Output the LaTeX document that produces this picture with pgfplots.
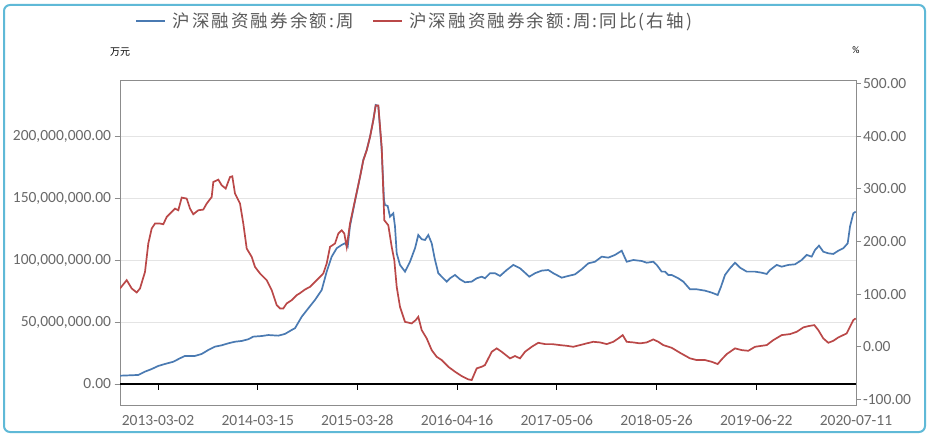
\documentclass[border=0pt]{standalone}
\usepackage{pgfplots}
\pgfplotsset{compat=1.18}
\usepackage{fontspec}
\setmainfont{Carlito}
\newfontfamily\cjk{Noto Sans CJK SC}
\newfontfamily\cjkleg[LetterSpace=12]{Noto Sans CJK SC}
\definecolor{serblue}{RGB}{74,122,178}
\definecolor{serred}{RGB}{186,72,72}
\definecolor{ticktext}{RGB}{105,105,105}
\definecolor{legtext}{RGB}{90,90,90}
\definecolor{framec}{RGB}{95,185,215}
\definecolor{gridc}{RGB}{228,228,228}
\definecolor{axisc}{RGB}{140,140,140}
\begin{document}
\begin{tikzpicture}[x=1pt,y=1pt]
\path[fill=white] (0,0) rectangle (931,440);
\draw[framec, line width=2pt, rounded corners=6pt] (4,8) rectangle (925,435);
% x: horizontal position along the time axis (ticks at the dates below)
% left axis: balance in units of 1,000,000 (10k yuan)
\begin{axis}[
  at={(120pt,35pt)}, anchor=south west,
  scale only axis, width=736pt, height=325pt,
  xmin=120, xmax=856, ymin=-17, ymax=245.9,
  x axis line style={gridc, line width=1.2pt},
  y axis line style={axisc, line width=1pt},
  xtick={158,257.7,357.4,457.1,556.8,656.6,756.3,856},
  xticklabels={2013-03-02,2014-03-15,2015-03-28,2016-04-16,2017-05-06,2018-05-26,2019-06-22,2020-07-11},
  xtick pos=left, xtick align=outside,
  xtick style={black, line width=0.8pt, yshift=21pt},
  major tick length=5.5pt,
  ytick={0,50,100,150,200},
  yticklabels={{0.00},{50,000,000.00},{100,000,000.00},{150,000,000.00},{200,000,000.00}},
  ytick pos=left, ytick align=outside,
  ytick style={axisc, line width=0.8pt},
  ymajorgrids, grid style={gridc, line width=1.2pt},
  extra y ticks={0}, extra y tick labels={},
  extra y tick style={grid=major, major grid style={black, line width=2.2pt}},
  tick label style={font=\fontsize{15.5}{17}\selectfont, text=ticktext},
  xticklabel style={yshift=-1pt},
  ylabel={\cjk 万元}, ylabel style={font=\fontsize{12.5}{14}\selectfont, text=legtext},
  every axis y label/.style={at={(axis description cs:0.0,1.085)}, anchor=center},
]
\addplot[serblue, line width=1.7pt] coordinates {
(120,6.7)(138.3,7.3)(145,10.0)(151.7,12.1)(158.3,14.6)(165,16.2)(173.3,18.0)(180,20.8)(185,22.7)(195,22.7)(201.7,24.3)(208.3,27.5)(215,30.2)(221.7,31.3)(228.3,32.9)(235,34.2)(241.7,34.8)(248.3,36.2)(253.3,38.3)(261.7,38.8)(268.3,39.6)(278.3,39.1)(285,40.5)(291.7,43.7)(295,45.1)(301.7,54.4)(308.3,61.2)(315,68.0)(321.7,76.0)(326.7,90.9)(331.7,103.0)(336.7,109.8)(341.7,112.5)(345,113.8)(347.7,111.1)(350,127.8)(355,148.0)(360,167.5)(363.3,181.2)(366.7,189.3)(370,199.8)(373.3,213.6)(375.7,225.7)(378.3,224.9)(381.7,189.3)(384,148.9)(385,144.8)(387.7,144.0)(390,135.3)(393.3,138.1)(395,127.3)(396.7,105.7)(400,96.3)(405,90.9)(410,98.9)(415,109.8)(418.3,120.5)(421.7,117.1)(425,116.5)(428.3,120.5)(431.7,113.8)(435,100.3)(438.3,89.6)(443.3,85.5)(446.7,82.8)(450,85.5)(455,88.2)(460,84.7)(465,82.3)(471.7,82.8)(476.7,85.5)(481.7,86.8)(485,85.5)(490,89.6)(495,89.6)(500,87.4)(506.7,92.2)(513.3,96.3)(520,93.6)(525,90.0)(529.3,86.8)(535,89.6)(541.7,91.7)(548.3,92.2)(553.3,89.6)(561.7,86.0)(568.3,87.4)(575,88.7)(581.7,92.8)(588.3,97.6)(595,98.9)(601.7,103.0)(608.3,102.2)(615,104.4)(621.7,107.8)(626.7,98.9)(633.3,100.3)(641.7,99.5)(646.7,98.1)(653.3,98.9)(656.7,96.3)(661.7,90.9)(665,90.9)(668.3,88.2)(671.7,88.2)(678.3,85.5)(683.3,82.8)(690,76.6)(696.7,76.6)(705,75.5)(711.7,73.9)(717.7,72.0)(721,78.7)(725,88.2)(730,93.6)(735,98.1)(740,94.1)(746.7,90.9)(755,90.9)(761.7,90.0)(766.7,89.0)(770,92.2)(776.7,96.3)(781.7,94.9)(788.3,96.3)(795,96.8)(801.7,100.3)(806.7,104.4)(811.7,103.0)(815,108.4)(819,111.9)(823.3,107.0)(828.3,105.7)(833.3,105.2)(838.3,107.8)(843.3,109.8)(847.7,113.8)(850,127.3)(853.3,138.1)(855.7,139.4)
};
\end{axis}
% right axis: year-on-year change, %
\begin{axis}[
  at={(120pt,35pt)}, anchor=south west,
  scale only axis, width=736pt, height=325pt,
  xmin=120, xmax=856, ymin=-110.6, ymax=506.9,
  axis line style={draw=none},
  xtick=\empty,
  ytick={-100,0,100,200,300,400,500},
  yticklabels={-100.00,0.00,100.00,200.00,300.00,400.00,500.00},
  ytick pos=right, ytick align=outside,
  ytick style={axisc, line width=0.8pt},
  major tick length=5pt,
  tick label style={font=\fontsize{15.5}{17}\selectfont, text=ticktext},
  yticklabel style={xshift=-1.5pt},
  ylabel={\%}, ylabel style={font=\fontsize{12.5}{14}\selectfont, text=legtext},
  every axis y label/.style={at={(axis description cs:1.0,1.092)}, anchor=center},
  legend columns=2,
  legend style={at={(axis description cs:0.020,1.1815)}, anchor=west, draw=none, fill=none,
    inner sep=0pt, font=\cjkleg\fontsize{17.5}{19}\selectfont, text=legtext,
    /tikz/every odd column/.append style={column sep=4pt},
    /tikz/every even column/.append style={column sep=16pt}},
  legend image code/.code={\draw[#1, line width=2.6pt] (0pt,0pt) -- (29pt,0pt);},
]
\addlegendimage{serblue}
\addlegendentry{沪深融资融券余额:周}
\addplot[serred, line width=1.7pt] coordinates {
(120,110.8)(126.7,126.6)(131.7,110.8)(136.7,103.2)(140,110.8)(145,142.3)(148.3,196.2)(151.7,224.7)(155,234.2)(160,234.2)(163.3,232.8)(166.7,246.7)(171.7,256.2)(175,262.6)(178.3,259.4)(181.7,283.5)(186.7,281.6)(190,262.6)(193.3,251.8)(198.3,259.4)(203.3,260.7)(206.7,272.1)(211.7,284.6)(213.3,313.1)(218.3,317.6)(221.7,306.8)(225.7,300.6)(230,322.6)(232.3,323.9)(235,291.1)(240,272.1)(243.3,234.2)(246.7,186.7)(251.7,170.8)(255,151.8)(260,139.3)(266.7,126.6)(271.7,107.6)(276.7,79.1)(280,72.9)(283.3,72.9)(286.7,82.4)(291.7,88.6)(296.7,98.1)(300,101.9)(305,108.9)(310,113.9)(315,123.3)(320,132.8)(323.3,139.3)(326.7,158.3)(330,189.8)(335,196.2)(338.3,215.2)(341.7,221.4)(344.3,215.2)(346.7,189.8)(350,234.2)(355,278.4)(360,322.6)(363.3,354.3)(366.7,373.2)(370,398.5)(373.3,430.2)(375.7,458.6)(378.3,458.6)(381.7,379.5)(384.3,240.4)(388.3,230.9)(391.7,189.8)(394.3,164.5)(396.7,113.9)(400,75.9)(405,47.4)(411.7,44.4)(415.7,50.7)(418.3,56.9)(421.7,31.7)(426.7,15.9)(431.7,-6.3)(436.7,-19.0)(441.7,-25.2)(448.3,-37.9)(455,-47.4)(461.7,-55.6)(468.3,-61.9)(471.7,-63.2)(476.7,-41.0)(481.7,-37.9)(485,-34.7)(491.7,-9.5)(496.7,-3.0)(501.7,-9.5)(510,-22.0)(515,-17.6)(520,-22.0)(525,-9.5)(531.7,0)(538.3,7.6)(545,5.1)(552,5.1)(560,3.2)(566.7,1.9)(573.3,0)(580,3.2)(586.7,6.5)(593.3,9.5)(600,8.3)(606.7,5.1)(613.3,9.5)(618.3,15.9)(622.7,22.2)(626.7,9.5)(633.3,8.3)(640,6.5)(646.7,8.3)(653.3,14.0)(658.3,9.5)(663.3,3.2)(671.7,-1.9)(680,-11.4)(690,-22.0)(696.7,-25.2)(705,-25.2)(711.7,-28.5)(717.7,-32.8)(721.7,-23.9)(726.7,-13.9)(735,-3.0)(741.7,-6.3)(748.3,-7.6)(755,0)(761.7,1.9)(766.7,3.2)(773.3,12.7)(781.7,22.2)(790,24.1)(796.7,28.5)(803.3,36.8)(808.3,39.3)(814.3,41.2)(818.3,31.7)(823.3,15.9)(828.3,7.6)(833.3,11.4)(838.3,17.8)(846.7,25.4)(850,38.0)(853.3,50.7)(855.7,53.9)
};
\addlegendentry{沪深融资融券余额:周:同比(右轴)}
\end{axis}
\end{tikzpicture}
\end{document}
